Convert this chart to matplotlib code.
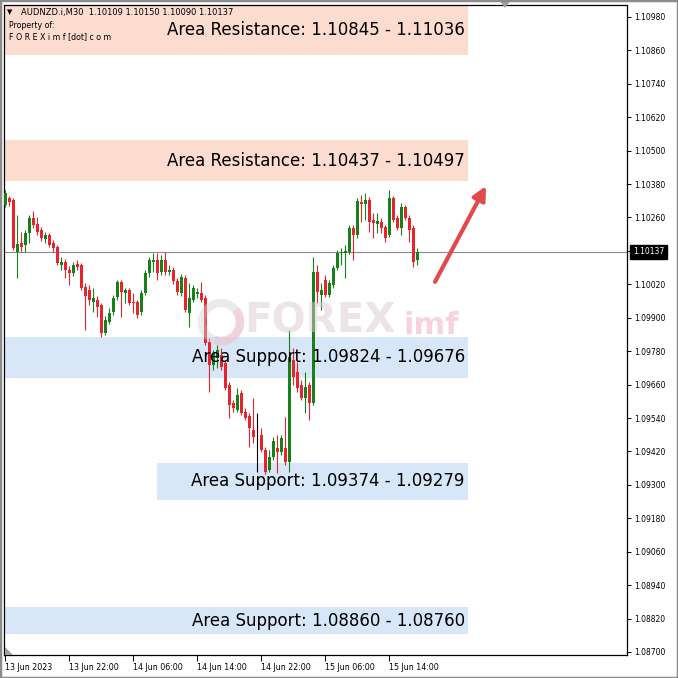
import numpy as np
import matplotlib.pyplot as plt
from matplotlib.patches import Rectangle, Circle, Arc, Polygon
from matplotlib.transforms import blended_transform_factory

# ---- data (AUDNZD M30) ----
symbol = "AUDNZD.i,M30"
header_ohlc = [1.10109, 1.10150, 1.10090, 1.10137]

opens = [
    1.10305, 1.10330, 1.10323, 1.10136, 1.10168, 1.10161, 1.10204, 1.10258, 1.10237, 1.10215,
    1.10183, 1.10197, 1.10168, 1.10154, 1.10089, 1.10100, 1.10071, 1.10061, 1.10093, 1.10089,
    1.10010, 1.10000, 1.09957, 1.09964, 1.09946, 1.09845, 1.09885, 1.09921, 1.09975, 1.10028,
    1.09989, 1.10000, 1.09957, 1.09957, 1.09921, 1.09989, 1.10061, 1.10100, 1.10107, 1.10064,
    1.10107, 1.10064, 1.10071, 1.10032, 1.09989, 1.10043, 1.09917, 1.09964, 1.09985, 1.09989,
    1.09971, 1.09813, 1.09730, 1.09755, 1.09766, 1.09737, 1.09658, 1.09594, 1.09569, 1.09630,
    1.09562, 1.09547, 1.09497, 1.09472, 1.09479, 1.09425, 1.09353, 1.09400, 1.09432, 1.09418,
    1.09432, 1.09382, 1.09748, 1.09705, 1.09658, 1.09612, 1.09658, 1.09594, 1.10064, 1.09982,
    1.10036, 1.09982, 1.10018, 1.10079, 1.10133, 1.10133, 1.10136, 1.10222, 1.10197, 1.10316,
    1.10308, 1.10323, 1.10251, 1.10237, 1.10244, 1.10226, 1.10197, 1.10330, 1.10258, 1.10222,
    1.10298, 1.10258, 1.10222, 1.10109,
]
highs = [
    1.10359, 1.10337, 1.10330, 1.10269, 1.10208, 1.10215, 1.10269, 1.10283, 1.10262, 1.10226,
    1.10208, 1.10204, 1.10179, 1.10161, 1.10118, 1.10111, 1.10086, 1.10100, 1.10107, 1.10097,
    1.10025, 1.10018, 1.10007, 1.09978, 1.09953, 1.09906, 1.09935, 1.09982, 1.10036, 1.10036,
    1.10007, 1.10007, 1.09989, 1.09964, 1.10000, 1.10071, 1.10118, 1.10133, 1.10133, 1.10125,
    1.10136, 1.10089, 1.10082, 1.10043, 1.10057, 1.10053, 1.10025, 1.10018, 1.10007, 1.10028,
    1.09982, 1.09827, 1.09784, 1.09802, 1.09791, 1.09748, 1.09669, 1.09605, 1.09648, 1.09641,
    1.09576, 1.09558, 1.09612, 1.09558, 1.09504, 1.09436, 1.09425, 1.09472, 1.09479, 1.09479,
    1.09544, 1.09856, 1.09791, 1.09741, 1.09676, 1.09705, 1.09669, 1.10118, 1.10089, 1.10025,
    1.10053, 1.10036, 1.10089, 1.10143, 1.10151, 1.10161, 1.10233, 1.10233, 1.10330, 1.10341,
    1.10348, 1.10334, 1.10276, 1.10276, 1.10258, 1.10233, 1.10359, 1.10337, 1.10269, 1.10312,
    1.10305, 1.10269, 1.10233, 1.10150,
]
lows = [
    1.10298, 1.10301, 1.10143, 1.10043, 1.10136, 1.10136, 1.10168, 1.10222, 1.10197, 1.10176,
    1.10168, 1.10154, 1.10136, 1.10089, 1.10071, 1.10043, 1.10018, 1.10050, 1.10071, 1.10000,
    1.09856, 1.09946, 1.09921, 1.09903, 1.09831, 1.09838, 1.09878, 1.09910, 1.09964, 1.09903,
    1.09953, 1.09946, 1.09917, 1.09899, 1.09910, 1.09982, 1.10046, 1.10064, 1.10036, 1.10053,
    1.10053, 1.10053, 1.10021, 1.09982, 1.09978, 1.09921, 1.09867, 1.09957, 1.09971, 1.09957,
    1.09802, 1.09633, 1.09712, 1.09720, 1.09712, 1.09641, 1.09540, 1.09562, 1.09562, 1.09551,
    1.09533, 1.09436, 1.09450, 1.09346, 1.09418, 1.09339, 1.09346, 1.09389, 1.09342, 1.09407,
    1.09371, 1.09346, 1.09658, 1.09633, 1.09605, 1.09558, 1.09533, 1.09587, 1.09953, 1.09928,
    1.09975, 1.09975, 1.10007, 1.10071, 1.10089, 1.10043, 1.10129, 1.10107, 1.10186, 1.10244,
    1.10251, 1.10208, 1.10186, 1.10204, 1.10204, 1.10172, 1.10190, 1.10244, 1.10215, 1.10197,
    1.10251, 1.10172, 1.10082, 1.10090,
]
closes = [
    1.10348, 1.10316, 1.10151, 1.10165, 1.10154, 1.10204, 1.10258, 1.10233, 1.10208, 1.10186,
    1.10197, 1.10161, 1.10151, 1.10097, 1.10100, 1.10071, 1.10061, 1.10089, 1.10082, 1.10007,
    1.09978, 1.09964, 1.09971, 1.09939, 1.09845, 1.09892, 1.09917, 1.09971, 1.10028, 1.09992,
    1.10000, 1.09953, 1.09953, 1.09910, 1.09989, 1.10061, 1.10107, 1.10107, 1.10061, 1.10107,
    1.10064, 1.10071, 1.10032, 1.09992, 1.10046, 1.09928, 1.09971, 1.10007, 1.09992, 1.09964,
    1.09809, 1.09730, 1.09773, 1.09784, 1.09723, 1.09648, 1.09587, 1.09576, 1.09623, 1.09558,
    1.09540, 1.09504, 1.09472, 1.09472, 1.09425, 1.09346, 1.09400, 1.09457, 1.09418, 1.09468,
    1.09382, 1.09759, 1.09687, 1.09648, 1.09612, 1.09651, 1.09594, 1.10064, 1.09992, 1.10000,
    1.09982, 1.10025, 1.10079, 1.10133, 1.10136, 1.10140, 1.10222, 1.10197, 1.10319, 1.10308,
    1.10323, 1.10244, 1.10240, 1.10247, 1.10222, 1.10186, 1.10330, 1.10251, 1.10222, 1.10298,
    1.10258, 1.10215, 1.10100, 1.10137,
]

time_ticks = [0, 16, 32, 48, 64, 80, 96]
time_labels = ["13 Jun 2023", "13 Jun 22:00", "14 Jun 06:00", "14 Jun 14:00",
               "14 Jun 22:00", "15 Jun 06:00", "15 Jun 14:00"]
price_ticks = [1.10980, 1.10860, 1.10740, 1.10620, 1.10500, 1.10380, 1.10260, 1.10140,
               1.10020, 1.09900, 1.09780, 1.09660, 1.09540, 1.09420, 1.09300, 1.09180,
               1.09060, 1.08940, 1.08820, 1.08700]
last_price = 1.10137

zone_kind = ["res", "res", "sup", "sup", "sup"]
zone_text = ["Area Resistance: 1.10845 - 1.11036",
             "Area Resistance: 1.10437 - 1.10497",
             "Area Support: 1.09824 - 1.09676",
             "Area Support: 1.09374 - 1.09279",
             "Area Support: 1.08860 - 1.08760"]
zone_low = [1.10844, 1.10391, 1.09684, 1.09246, 1.08764]
zone_high = [1.11036, 1.10538, 1.09831, 1.09378, 1.08861]
zone_start = [-0.25, -0.25, -0.25, 38, -0.25]
zone_end = 115.75

arrow_from = (107.5, 1.10029)
arrow_to = (120.25, 1.10373)

# ---- styling ----
W = H = 678
GREEN = "#17801a"
RED = "#e5242c"
ZONE_FC = {"res": "#fcdccf", "sup": "#d7e7f7"}
Y_MIN, Y_MAX = 1.08689, 1.11023

fig = plt.figure(figsize=(W / 100, H / 100), dpi=100)
fig.patch.set_facecolor("white")
ax = fig.add_axes([4 / W, 23 / H, 623 / W, 650 / H])
ax.set_xlim(-0.25, 155.5)
ax.set_ylim(Y_MIN, Y_MAX)

# zones
for kind, txt, lo, hi, x0 in zip(zone_kind, zone_text, zone_low, zone_high, zone_start):
    ax.add_patch(Rectangle((x0, lo), zone_end - x0, hi - lo, facecolor=ZONE_FC[kind],
                           edgecolor="none", zorder=1))
    mid = (max(lo, Y_MIN) + min(hi, Y_MAX)) / 2
    ax.text(zone_end - 0.8, mid, txt, ha="right", va="center", fontsize=12,
            color="black", zorder=7)


def fx(px):
    return px / W


def fy(py):
    return 1 - py / H


# watermark
fig.patches.append(Circle((fx(221), fy(322)), 19 / W, transform=fig.transFigure,
                          fill=False, ec="#d4d4d4", lw=6, alpha=0.45, zorder=2))
fig.patches.append(Arc((fx(221), fy(322)), 38 / W, 38 / H, theta1=250, theta2=40,
                       transform=fig.transFigure, ec="#f2bfd0", lw=6, alpha=0.5, zorder=2))
fig.text(fx(244), fy(322), "FOREX", fontsize=29, fontweight="bold", color="#dccbd0",
         alpha=0.5, va="center", ha="left", zorder=2)
fig.text(fx(403), fy(326), "imf", fontsize=22, fontweight="bold", color="#f0a9c2",
         alpha=0.5, va="center", ha="left", zorder=2)

# current price line
ax.axhline(last_price, color="#8a8a8a", lw=0.8, zorder=2)

# candles
o = np.array(opens)
h = np.array(highs)
l = np.array(lows)
c = np.array(closes)
x = np.arange(len(o))
cols = np.where(c > o, GREEN, np.where(c < o, RED, "black"))
ax.vlines(x, l, h, colors=cols, linewidth=0.8, zorder=3)
body = np.maximum(np.abs(c - o), 0.00003)
bottom = np.minimum(o, c) - np.where(c == o, 0.000015, 0)
ax.bar(x, body, bottom=bottom, width=0.75, color=cols, linewidth=0, zorder=4)

# arrow
ax.annotate("", xy=arrow_to, xytext=arrow_from,
            arrowprops=dict(arrowstyle="-|>,head_length=0.8,head_width=0.4",
                            color="#e04a4c", lw=3.0, shrinkA=0, shrinkB=0), zorder=6)

# axes
for s in ax.spines.values():
    s.set_color("black")
    s.set_linewidth(0.9)
ax.yaxis.tick_right()
ax.set_yticks(price_ticks)
# the label under the current-price tag is hidden by the tag itself
ax.set_yticklabels(["" if abs(p - last_price) < 0.0002 else f"{p:.5f}" for p in price_ticks],
                   fontsize=5.5)
ax.tick_params(axis="y", direction="out", length=3, width=0.7, pad=2.5, colors="black")
ax.set_xticks(time_ticks)
ax.set_xticklabels(time_labels, fontsize=5.7, ha="left")
ax.tick_params(axis="x", direction="out", length=4, width=0.7, pad=2)

trans = blended_transform_factory(ax.transAxes, ax.transData)
ax.text(1 + 6 / 623, last_price, f"{last_price:.5f}", transform=trans, color="white",
        fontsize=5.5, va="center", ha="left", clip_on=False, zorder=10,
        bbox=dict(boxstyle="square,pad=0.35", fc="black", ec="black"))

# header
fig.text(fx(7), fy(12), "\u25bc", fontsize=5, va="center", ha="left")
fig.text(fx(21), fy(12), symbol + "  " + " ".join(f"{v:.5f}" for v in header_ohlc),
         fontsize=6.0, va="center", ha="left")
fig.text(fx(9), fy(25), "Property of:", fontsize=5.7, va="center", ha="left")
fig.text(fx(9), fy(37), "F O R E X i m f [dot] c o m", fontsize=5.7, va="center", ha="left")

# chart-shift markers and outer frame
fig.patches.append(Polygon([(fx(499), fy(0)), (fx(511), fy(0)), (fx(505), fy(8))],
                           closed=True, transform=fig.transFigure, fc="#a0a0a0", ec="none"))
fig.patches.append(Polygon([(fx(5), fy(647)), (fx(5), fy(655)), (fx(13), fy(655))],
                           closed=True, transform=fig.transFigure, fc="#a0a0a0", ec="none"))
fig.patches.append(Rectangle((0, 0), 1, 1, transform=fig.transFigure, fill=False,
                             ec="#8c8c8c", lw=2.5))

fig.savefig("out.png", dpi=100)
